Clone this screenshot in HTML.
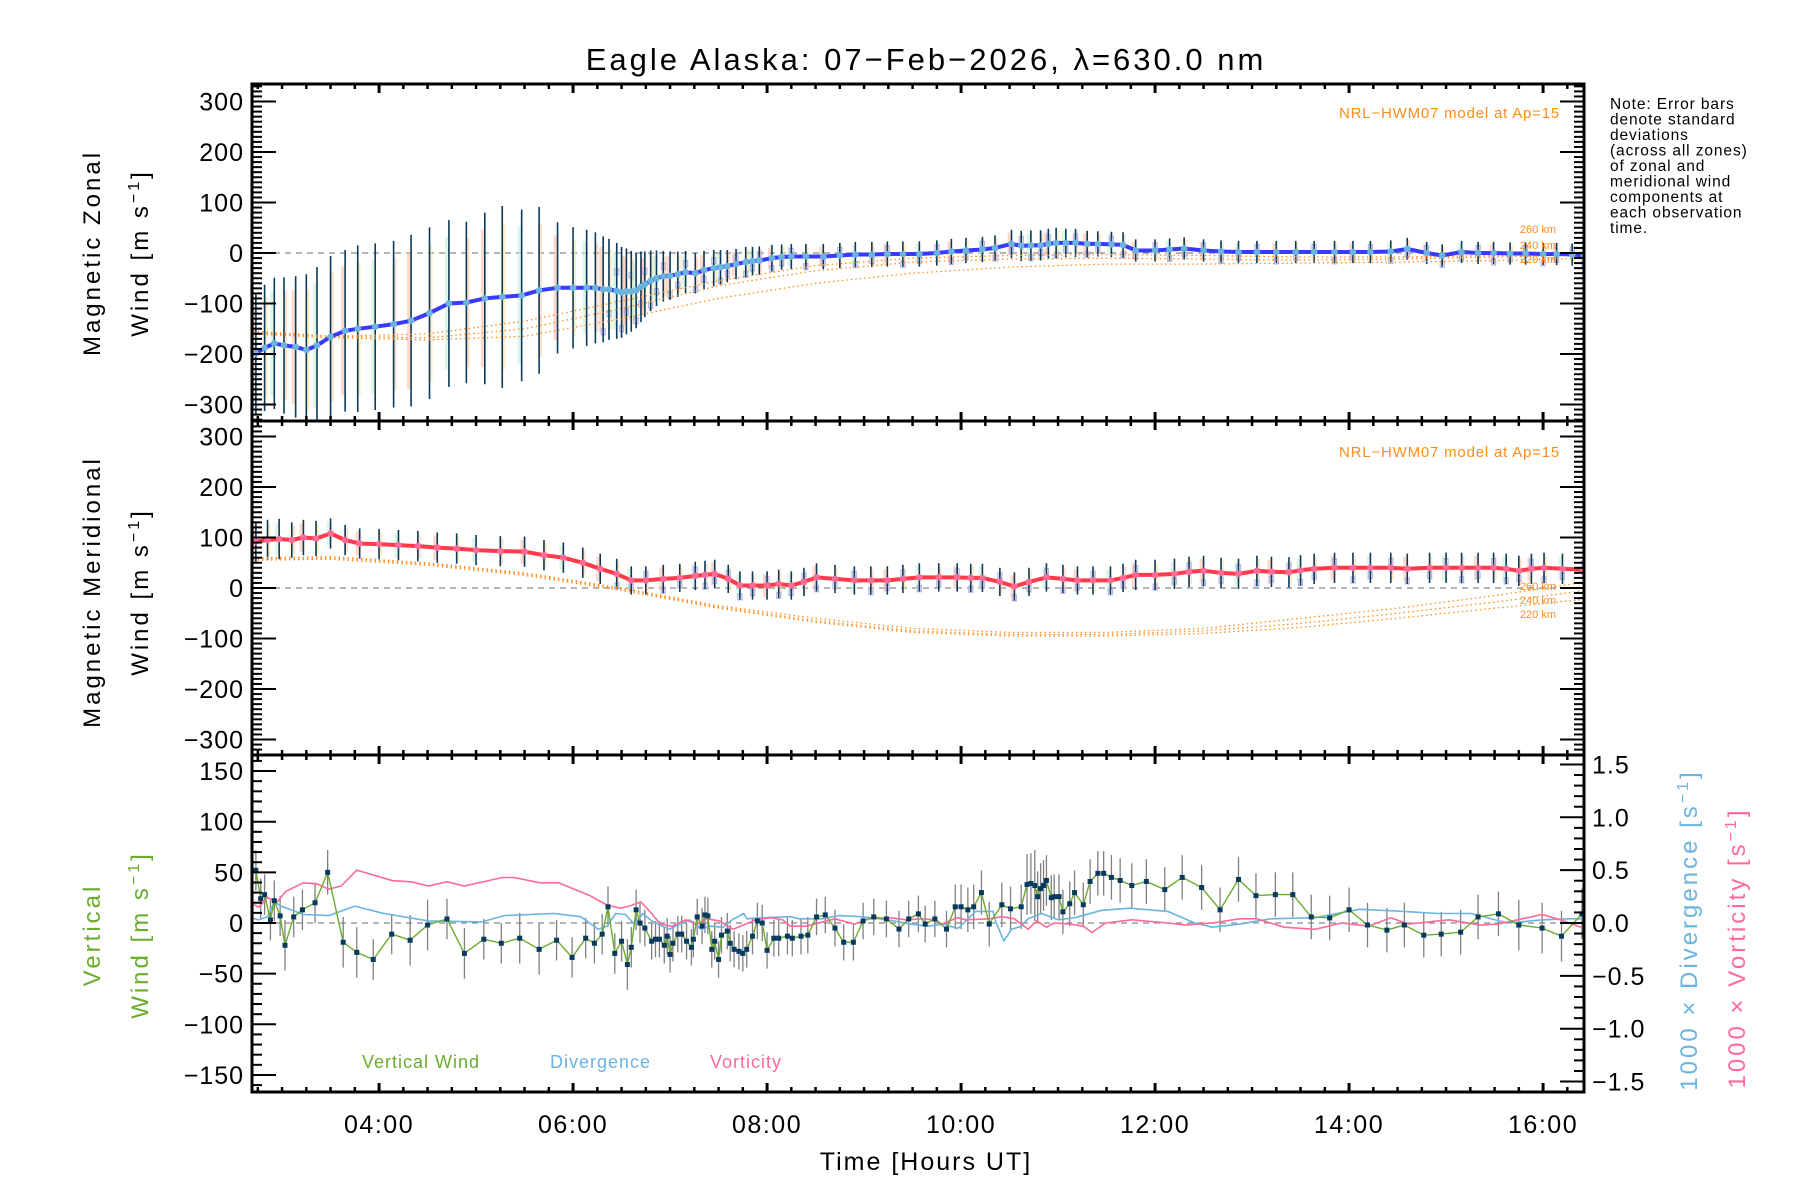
<!DOCTYPE html>
<html><head><meta charset="utf-8"><style>
html,body{margin:0;padding:0;background:#fff;}
svg{display:block;font-family:"Liberation Sans",sans-serif;}
</style></head><body>
<svg id="chart" width="1800" height="1200" viewBox="0 0 1800 1200" xmlns="http://www.w3.org/2000/svg">
<text x="926" y="70" font-size="31" letter-spacing="3" text-anchor="middle" fill="#000">Eagle Alaska: 07−Feb−2026, λ=630.0 nm</text>
<g id="panels"></g>
<text font-size="15.5" letter-spacing="0.9" fill="#000">
<tspan x="1610" y="109">Note: Error bars</tspan><tspan x="1610" y="124.5">denote standard</tspan><tspan x="1610" y="140">deviations</tspan><tspan x="1610" y="155.5">(across all zones)</tspan><tspan x="1610" y="171">of zonal and</tspan><tspan x="1610" y="186.5">meridional wind</tspan><tspan x="1610" y="202">components at</tspan><tspan x="1610" y="217.5">each observation</tspan><tspan x="1610" y="233">time.</tspan></text>
<text transform="translate(100,253) rotate(-90)" font-size="24" letter-spacing="3" text-anchor="middle" fill="#000">Magnetic Zonal</text>
<text transform="translate(148,253) rotate(-90)" font-size="24" letter-spacing="3" text-anchor="middle" fill="#000">Wind [m s<tspan dy="-9" font-size="16">−1</tspan><tspan dy="9">]</tspan></text>
<text transform="translate(100,592) rotate(-90)" font-size="24" letter-spacing="3" text-anchor="middle" fill="#000">Magnetic Meridional</text>
<text transform="translate(148,592) rotate(-90)" font-size="24" letter-spacing="3" text-anchor="middle" fill="#000">Wind [m s<tspan dy="-9" font-size="16">−1</tspan><tspan dy="9">]</tspan></text>
<text transform="translate(100,935) rotate(-90)" font-size="24" letter-spacing="3" text-anchor="middle" fill="#6aac2c">Vertical</text>
<text transform="translate(148,935) rotate(-90)" font-size="24" letter-spacing="3" text-anchor="middle" fill="#6aac2c">Wind [m s<tspan dy="-9" font-size="16">−1</tspan><tspan dy="9">]</tspan></text>
<text transform="translate(1697,930) rotate(-90)" font-size="24" letter-spacing="3" text-anchor="middle" fill="#6ab4e0">1000 × Divergence [s<tspan dy="-9" font-size="16">−1</tspan><tspan dy="9">]</tspan></text>
<text transform="translate(1745,948) rotate(-90)" font-size="24" letter-spacing="3" text-anchor="middle" fill="#ff6a98">1000 × Vorticity [s<tspan dy="-9" font-size="16">−1</tspan><tspan dy="9">]</tspan></text>
<text x="926" y="1170" font-size="25" letter-spacing="2" text-anchor="middle" fill="#000">Time [Hours UT]</text>
<text x="362" y="1068" font-size="18" letter-spacing="1" fill="#6aac2c">Vertical Wind</text>
<text x="550" y="1068" font-size="18" letter-spacing="1" fill="#6ab4e0">Divergence</text>
<text x="710" y="1068" font-size="18" letter-spacing="1" fill="#ff6a98">Vorticity</text>
<text x="1560" y="118" font-size="15" letter-spacing="0.8" text-anchor="end" fill="#ff8c1a">NRL−HWM07 model at Ap=15</text>
<text x="1560" y="457" font-size="15" letter-spacing="0.8" text-anchor="end" fill="#ff8c1a">NRL−HWM07 model at Ap=15</text>
</svg>
<script>
// ---- data ----
const zonalT = [2.73,2.82,2.92,3.02,3.14,3.25,3.36,3.5,3.65,3.78,3.96,4.15,4.33,4.52,4.72,4.9,5.09,5.27,5.47,5.65,5.84,6.0,6.14,6.23,6.31,6.37,6.45,6.5,6.55,6.6,6.65,6.7,6.74,6.8,6.86,6.93,7.0,7.08,7.16,7.26,7.35,7.45,7.52,7.59,7.68,7.78,7.85,7.92,8.05,8.15,8.25,8.4,8.58,8.75,8.91,9.08,9.24,9.4,9.57,9.75,9.9,10.05,10.22,10.35,10.52,10.62,10.72,10.82,10.9,10.98,11.08,11.18,11.3,11.41,11.55,11.67,11.8,12.0,12.15,12.3,12.5,12.68,12.86,13.05,13.25,13.45,13.64,13.85,14.04,14.22,14.43,14.6,14.8,14.96,15.16,15.33,15.49,15.66,15.82,16.0,16.14,16.3,16.42];
const zonalV = [-199,-188,-179,-183,-186,-192,-183,-166,-154,-150,-146,-141,-134,-119,-100,-98,-90,-87,-84,-74,-69,-69,-69,-69,-72,-72,-75,-78,-76,-76,-74,-67,-62,-55,-50,-46,-45,-42,-38,-40,-34,-30,-28,-26,-22,-18,-16,-15,-10,-8,-7,-7,-7,-5,-3,-3,-2,-2,-2,0,3,5,7,10,18,14,15,15,18,20,20,20,18,18,17,16,5,5,7,9,5,3,2,2,2,2,2,2,2,2,3,8,0,-5,2,0,0,-1,-1,-2,-2,-3,-5];
const zonalErr = [120,125,130,135,140,150,155,160,160,165,165,165,170,170,165,160,170,180,170,165,130,120,115,110,105,100,95,90,85,80,75,70,65,60,55,50,48,45,42,40,38,36,34,32,30,30,28,28,26,25,25,25,25,25,25,25,25,25,25,25,25,25,25,25,28,30,30,30,30,30,28,28,26,25,25,25,22,22,22,22,22,22,22,22,22,22,22,22,22,22,22,22,22,22,22,22,22,22,22,22,22,22,22];
const meridT = [2.73,2.85,2.97,3.1,3.22,3.35,3.5,3.65,3.8,4.0,4.2,4.4,4.6,4.8,5.0,5.25,5.5,5.7,5.9,6.1,6.28,6.45,6.6,6.75,6.93,7.1,7.26,7.36,7.46,7.6,7.72,7.85,8.0,8.12,8.25,8.38,8.51,8.7,8.9,9.07,9.24,9.4,9.57,9.77,9.96,10.1,10.22,10.4,10.55,10.7,10.88,11.05,11.2,11.36,11.54,11.67,11.8,12.0,12.2,12.35,12.5,12.68,12.86,13.05,13.2,13.38,13.5,13.64,13.85,14.04,14.22,14.43,14.6,14.83,15.0,15.16,15.33,15.49,15.62,15.75,15.88,16.01,16.2,16.42];
const meridV = [92,95,97,95,100,98,108,95,88,87,85,83,80,78,75,73,72,65,60,50,38,28,15,15,18,20,24,26,28,18,5,5,5,8,5,12,21,18,15,15,15,18,21,21,21,20,20,12,3,12,21,18,15,15,15,20,26,26,28,32,34,30,28,34,32,31,35,38,40,40,40,40,38,40,40,40,40,40,38,34,38,40,38,36];
const meridErr = [40,40,40,35,35,35,30,30,30,30,30,30,30,30,30,30,30,30,30,30,30,30,28,28,28,28,28,28,28,28,28,28,28,28,28,28,28,28,28,28,28,28,28,28,28,28,28,28,28,28,28,28,28,28,28,28,30,30,30,30,30,30,30,30,30,30,30,30,30,30,30,30,30,30,30,30,30,30,30,30,30,30,30,30];
const modelT = [2.7,3.5,4.5,5.5,6.5,7.5,8.5,9.5,10.5,11.5,12.5,13.5,14.5,15.5,16.45];
const zonalModel260 = [-155,-165,-160,-135,-95,-55,-25,-10,-5,-3,-5,-8,-8,-5,0];
const zonalModel240 = [-158,-165,-168,-150,-110,-65,-35,-18,-12,-10,-12,-14,-12,-8,-3];
const zonalModel220 = [-160,-168,-172,-165,-130,-90,-60,-40,-28,-22,-22,-20,-18,-15,-10];
const meridModel260 = [60,62,50,30,0,-35,-60,-80,-88,-88,-80,-60,-40,-15,12];
const meridModel240 = [58,60,48,28,-2,-38,-65,-85,-92,-92,-85,-70,-50,-28,-5];
const meridModel220 = [55,57,45,25,-5,-40,-68,-88,-95,-95,-90,-78,-60,-40,-22];
const vertT = [2.73,2.78,2.82,2.88,2.92,2.98,3.03,3.12,3.21,3.34,3.47,3.63,3.77,3.94,4.13,4.32,4.5,4.7,4.88,5.08,5.26,5.45,5.65,5.83,5.99,6.13,6.22,6.3,6.36,6.43,6.5,6.56,6.6,6.65,6.69,6.74,6.81,6.85,6.89,6.94,6.97,7.0,7.03,7.08,7.12,7.17,7.22,7.24,7.28,7.33,7.36,7.39,7.43,7.46,7.5,7.53,7.59,7.62,7.66,7.71,7.75,7.79,7.85,7.9,7.95,8.0,8.07,8.12,8.21,8.26,8.35,8.42,8.51,8.6,8.7,8.79,8.89,8.99,9.1,9.23,9.36,9.46,9.56,9.63,9.73,9.85,9.94,10.0,10.07,10.13,10.21,10.29,10.42,10.51,10.62,10.68,10.72,10.76,10.79,10.82,10.85,10.88,10.93,10.96,11.01,11.05,11.12,11.17,11.26,11.33,11.41,11.47,11.55,11.64,11.76,11.91,12.1,12.28,12.48,12.67,12.86,13.04,13.24,13.42,13.61,13.8,14.0,14.19,14.39,14.57,14.77,14.95,15.15,15.33,15.54,15.75,15.99,16.19,16.4];
const vertV = [52,24,28,3,22,7,-22,6,13,20,50,-19,-29,-36,-11,-17,-2,4,-30,-16,-20,-15,-26,-17,-34,-15,-20,-11,16,-30,-18,-41,-24,13,0,-5,-18,-16,-16,-22,-13,-31,-20,-11,-11,-18,-24,-16,6,-3,8,7,-26,-18,-36,-12,-8,-20,-26,-28,-30,-26,-13,2,0,-27,-15,-15,-13,-15,-13,-12,6,8,-5,-19,-19,2,6,4,-6,4,9,-1,4,-6,16,16,13,16,30,-1,18,14,16,38,39,37,26,34,37,42,25,26,26,11,19,30,18,41,49,49,45,42,37,41,33,45,35,13,43,27,28,28,6,5,13,-2,-7,-2,-12,-11,-9,6,9,-2,-5,-13,9];
const vertErr = [20,20,20,20,20,20,25,20,20,20,22,25,25,20,20,25,25,20,25,20,20,25,25,20,20,20,20,20,20,20,20,25,20,20,20,18,18,18,18,18,18,18,18,18,18,18,18,18,18,18,18,18,18,18,18,18,18,18,18,18,18,18,18,18,18,18,18,18,18,18,18,18,18,18,18,18,18,18,18,18,18,18,18,18,18,18,22,22,22,22,22,22,22,22,22,30,30,35,25,25,25,25,22,22,22,22,22,22,22,22,22,22,22,22,22,22,22,22,22,22,22,22,22,22,22,22,22,22,22,22,22,22,22,22,22,25,25,25,25,25,22];
const divT = [2.67,2.76,2.85,2.92,2.99,3.22,3.48,3.75,4.05,4.51,5.06,5.29,5.8,6.08,6.26,6.35,6.44,6.54,6.63,6.72,6.81,6.99,7.2,7.32,7.41,7.55,7.64,7.76,7.79,7.96,8.24,8.33,8.56,8.74,8.97,9.25,9.48,9.65,9.83,9.88,9.97,10.15,10.33,10.35,10.44,10.52,10.62,10.69,10.83,11.0,11.17,11.45,11.74,12.13,12.41,12.59,12.87,13.19,13.65,14.11,14.57,14.91,15.26,15.63,16.0,16.28,16.42];
const divV = [0.05,0.03,0.06,0.2,0.16,0.08,0.07,0.16,0.09,0.02,0.01,0.07,0.09,0.06,-0.06,-0.03,0.09,0.08,-0.01,0.09,0.02,-0.06,0.03,-0.06,-0.03,-0.04,0.03,0.09,0.04,0.05,0.06,0.04,0.04,0.07,0.06,0.03,-0.01,-0.03,-0.01,-0.03,-0.05,0.11,0.11,0.03,-0.17,-0.06,-0.03,0.04,0.09,0.03,0.05,0.12,0.14,0.11,0,-0.04,-0.01,0.04,0.05,0.13,0.11,0.09,0.09,0,0.03,0.04,0.04];
const vortT = [2.67,2.76,2.85,2.95,3.04,3.22,3.36,3.48,3.61,3.77,4.14,4.33,4.51,4.7,4.88,5.27,5.39,5.66,5.85,6.17,6.35,6.49,6.58,6.7,6.81,6.9,7.02,7.16,7.27,7.38,7.51,7.65,7.78,7.88,8.04,8.16,8.24,8.4,8.7,8.9,9.05,9.27,9.43,9.6,9.73,9.8,9.96,10.05,10.29,10.42,10.55,10.69,10.78,10.88,10.96,11.12,11.26,11.35,11.49,11.76,12.13,12.31,12.59,12.87,13.05,13.33,13.65,13.92,14.2,14.43,14.61,15.03,15.35,15.53,15.99,16.18,16.42];
const vortV = [0.19,0.15,0.24,0.2,0.3,0.38,0.37,0.32,0.35,0.5,0.4,0.39,0.35,0.39,0.35,0.43,0.43,0.38,0.38,0.26,0.17,0.14,0.16,0.2,0.09,-0.01,-0.03,0.03,-0.01,0.04,0.02,-0.06,-0.01,0.03,0.05,0.03,-0.03,-0.03,0.04,-0.01,0.04,0.05,0.03,0.04,0.03,-0.01,0.05,0.03,0.04,0.06,0.04,-0.06,0.02,-0.04,0,-0.01,-0.03,-0.09,0,0.03,0,-0.02,0,0.04,0.04,-0.04,-0.06,0,-0.03,0.05,-0.01,0.03,-0.02,-0.01,0.08,0.03,-0.05];
const xTickLabels = ["04:00","06:00","08:00","10:00","12:00","14:00","16:00"];
const xTickHours = [4,6,8,10,12,14,16];
const windTicks = [300,200,100,0,-100,-200,-300];
const vertTicks = [150,100,50,0,-50,-100,-150];
const rightTicks = [1.5,1.0,0.5,0.0,-0.5,-1.0,-1.5];

// ---- geometry ----
const X0=252, X1=1584, T0=2.69;
const xs = t => X0 + (t - T0) * 97;
const P = [
  {top:84, bot:421, y0:253, k:0.505},
  {top:421, bot:755, y0:588, k:0.505},
  {top:755, bot:1092, y0:923, k:1.013}
];
const yZ = v => P[0].y0 - v*P[0].k;
const yM = v => P[1].y0 - v*P[1].k;
const yV = v => P[2].y0 - v*P[2].k;
const yR = v => P[2].y0 - v*105.7;
const NS="http://www.w3.org/2000/svg";
const root=document.getElementById('panels');
function el(tag, attrs, parent){const e=document.createElementNS(NS,tag);for(const k in attrs)e.setAttribute(k,attrs[k]);(parent||root).appendChild(e);return e;}
function line(x1,y1,x2,y2,st,sw,parent,dash){const l=el('line',{x1,y1,x2,y2,stroke:st,'stroke-width':sw},parent);if(dash)l.setAttribute('stroke-dasharray',dash);return l;}

const clip=el('defs',{});
[0,1,2].forEach(i=>{const c=el('clipPath',{id:'clip'+i},clip);el('rect',{x:X0,y:P[i].top,width:X1-X0,height:P[i].bot-P[i].top},c);});

function poly(ts,vs,yf,color,sw,gp,dash,name){
  const pts=ts.map((t,i)=>xs(t).toFixed(1)+','+yf(vs[i]).toFixed(1)).join(' ');
  const pl=el('polyline',{points:pts,fill:'none',stroke:color,'stroke-width':sw,'stroke-linejoin':'round'},gp);
  if(dash)pl.setAttribute('stroke-dasharray',dash);
  
  
  return pl;
}

const spreadCols=['#ffc0a8','#fde2a0','#c8f0d8','#ffd0b0'];
function windPanel(idx,T,V,E,yf,m260,m240,m220,lineCol,name){
  const g=el('g',{'clip-path':'url(#clip'+idx+')'});
  
  
  line(X0,yf(0),X1,yf(0),'#888',1.2,g,'6,5');
  T.forEach((t,i)=>{
    const x=xs(t);
    const r=el('rect',{x:x-3+(i%2?2:-1),y:yf(V[i]+E[i]*0.8),width:4,height:E[i]*1.6*P[idx].k,fill:spreadCols[i%4],opacity:0.6},g);
    
    
    if(t>6.3){
      const off=(i%3===0?-1:(i%3===1?-0.6:0.5))*E[i]*0.8;
      const q=el('rect',{x:x-2,y:yf(V[i]+off)-3,width:4,height:6,fill:'none',stroke:'#b4b4e8','stroke-width':1.2},g);
      
      
    }
  });
  T.forEach((t,i)=>{
    const x=xs(t);
    const b=line(x,yf(V[i]+E[i]),x,yf(V[i]-E[i]),'#0a3a5a',1.6,g);
    
    
  });
  poly(modelT,m260,yf,'#ff8c1a',1.3,g,'1.5,3',name+'-model-260km');
  poly(modelT,m240,yf,'#ff8c1a',1.3,g,'1.5,3',name+'-model-240km');
  poly(modelT,m220,yf,'#ff8c1a',1.3,g,'1.5,3',name+'-model-220km');
  poly(T,V,yf,lineCol,4,g,null,name+'-mean-line');
  T.forEach((t,i)=>{
    const c=el('circle',{cx:xs(t),cy:yf(V[i]),r:3.3,fill:idx===0?'#6ab4e0':'#ff6a98'},g);
    
    
  });
  const lab=['260 km','240 km','220 km'];
  const off=idx===0?[-16,0,14]:[0,14,28];
  lab.forEach((s,j)=>{const tx=el('text',{x:1556,y:yf(0)+off[j]+(idx===0?-4:2),'font-size':11,'text-anchor':'end',fill:'#ff8c1a'});tx.textContent=s;
    
    });
}
windPanel(0,zonalT,zonalV,zonalErr,yZ,zonalModel260,zonalModel240,zonalModel220,'#3a3aff','zonal');
windPanel(1,meridT,meridV,meridErr,yM,meridModel260,meridModel240,meridModel220,'#ff3a4a','meridional');

// ---- vertical panel ----
{
  const g=el('g',{'clip-path':'url(#clip2)'});
  
  
  line(X0,yV(0),X1,yV(0),'#888',1.2,g,'6,5');
  vertT.forEach((t,i)=>{const b=line(xs(t),yV(vertV[i]+vertErr[i]),xs(t),yV(vertV[i]-vertErr[i]),'#808080',1.3,g);
    
    });
  poly(divT,divV,yR,'#6ab4e0',1.6,g,null,'divergence-line');
  poly(vortT,vortV,yR,'#ff6a98',1.6,g,null,'vorticity-line');
  poly(vertT,vertV,yV,'#6aac2c',1.4,g,null,'vertical-wind-line');
  vertT.forEach((t,i)=>{const r=el('rect',{x:xs(t)-2.5,y:yV(vertV[i])-2.5,width:5,height:5,fill:'#083a60'},g);
    
    });
}

// ---- axes ----
const ax=el('g',{});


P.forEach((p,i)=>{
  el('rect',{x:X0,y:p.top,width:X1-X0,height:p.bot-p.top,fill:'none',stroke:'#000','stroke-width':3},ax);
  for(let m=Math.ceil(T0*4);m/4<=16.42;m++){
    const t=m/4,x=xs(t),maj=(m%8===0);const L=maj?9:5;
    line(x,p.top,x,p.top+L,'#000',maj?3:2.5,ax);
    line(x,p.bot,x,p.bot-L,'#000',maj?3:2.5,ax);
  }
  if(i<2){
    for(let v=-330;v<=330;v+=10){const y=(i===0?yZ:yM)(v);if(y<p.top+1||y>p.bot-1)continue;const maj=v%100===0;const L=maj?24:10;
      line(X0,y,X0+L,y,'#000',2,ax);line(X1,y,X1-L,y,'#000',2,ax);}
  } else {
    for(let v=-160;v<=160;v+=10){const y=yV(v);const maj=v%50===0;line(X0,y,X0+(maj?24:10),y,'#000',2,ax);}
    for(let k=-15;k<=15;k++){const y=yR(k/10);const maj=k%5===0;line(X1,y,X1-(maj?24:10),y,'#000',2,ax);}
  }
});
windTicks.forEach(v=>{
  [yZ,yM].forEach((f,j)=>{const t=el('text',{x:244,y:f(v)+9,'font-size':25,'letter-spacing':1,'text-anchor':'end',fill:'#000'},ax);t.textContent=(v<0?'−':'')+Math.abs(v);
    
    });
});
vertTicks.forEach(v=>{const t=el('text',{x:244,y:yV(v)+9,'font-size':25,'letter-spacing':1,'text-anchor':'end',fill:'#000'},ax);t.textContent=(v<0?'−':'')+Math.abs(v);
  
  });
rightTicks.forEach(v=>{const t=el('text',{x:1592,y:yR(v)+9,'font-size':25,'letter-spacing':1,fill:'#000'},ax);t.textContent=(v<0?'−':'')+Math.abs(v).toFixed(1);
  
  });
xTickHours.forEach((h,i)=>{const t=el('text',{x:xs(h),y:1133,'font-size':25,'letter-spacing':1.5,'text-anchor':'middle',fill:'#000'},ax);t.textContent=xTickLabels[i];
  
  });
</script>
</body></html>
